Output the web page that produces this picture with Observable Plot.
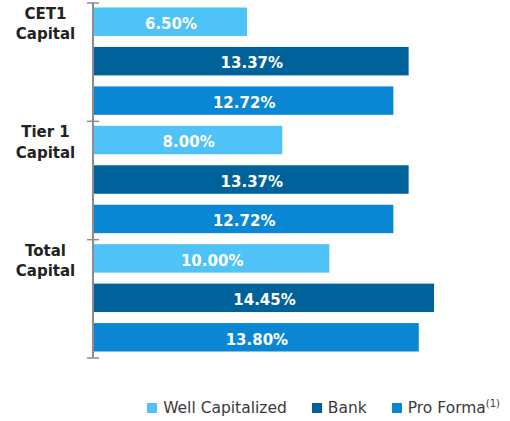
<!DOCTYPE html>
<html><head><meta charset="utf-8">
<script src="https://cdn.jsdelivr.net/npm/d3@7"></script>
<script src="https://cdn.jsdelivr.net/npm/@observablehq/plot@0.6"></script>
<style>
body{margin:0;background:#fff;font-family:"DejaVu Sans",sans-serif;}
#chart{width:510px;}
#chart svg{display:block;}
.legend{display:flex;justify-content:flex-end;align-items:center;margin-top:37px;padding-right:10px;font-size:15.5px;color:#3a3a3a;height:18px;line-height:18px;}
.item{display:flex;align-items:center;margin-left:25px;white-space:nowrap;}
.sw{width:10px;height:10px;margin-right:6px;flex:none;}
.item sup{font-size:10px;line-height:0;vertical-align:6px;}
</style></head><body><div id="chart"></div>
<script>
const groups = ["CET1\nCapital", "Tier 1\nCapital", "Total\nCapital"];
const series = ["Well Capitalized", "Bank", "Pro Forma"];
const wellCapitalized = [6.50, 8.00, 10.00];
const bank = [13.37, 13.37, 14.45];
const proForma = [12.72, 12.72, 13.80];
const colors = ["#4fc3f7", "#00629b", "#0a87d4"];

const valueLists = [wellCapitalized, bank, proForma];
const rows = [];
groups.forEach((g, gi) => series.forEach((s, si) =>
  rows.push({group: g, series: s, value: valueLists[si][gi], row: gi * series.length + si})));
const nRows = groups.length * series.length;
const groupEdges = d3.range(0, nRows + 1, series.length);

const plot = Plot.plot({
  width: 510, height: 362,
  marginLeft: 94, marginRight: 63, marginTop: 2.5, marginBottom: 4.5,
  style: {fontFamily: "DejaVu Sans", background: "white"},
  x: {domain: [0, 15], axis: null},
  y: {domain: [0, nRows], reverse: true, axis: null},
  color: {domain: series, range: colors},
  marks: [
    Plot.rectX(rows, {x: "value", y: "row", interval: 1, fill: "series", insetTop: 5, insetBottom: 6}),
    Plot.text(rows, {x: d => d.value / 2, y: d => d.row + 0.5, text: d => d.value.toFixed(2) + "%",
      fill: "white", fontWeight: "bold", fontSize: 15, dy: 1.5}),
    Plot.ruleX([0], {y1: 0, y2: nRows, stroke: "#8c8c8c", strokeWidth: 2, dx: -1.5}),
    Plot.ruleY(groupEdges, {y: d => d, x1: 0, x2: 0, insetLeft: -7, insetRight: -5, stroke: "#8c8c8c", strokeWidth: 1.5}),
    Plot.text(groups, {x: 0, y: (d, i) => i * series.length + 0.5, text: d => d, dx: -49,
      textAnchor: "middle", fontWeight: "bold", fontSize: 15, lineHeight: 1.35, fill: "#222"})
  ]
});
document.getElementById("chart").appendChild(plot);

const legend = document.createElement("div");
legend.className = "legend";
series.forEach((s, i) => {
  const item = document.createElement("div");
  item.className = "item";
  const sw = document.createElement("span");
  sw.className = "sw";
  sw.style.background = colors[i];
  item.appendChild(sw);
  const label = document.createElement("span");
  label.textContent = s;
  if (s === "Pro Forma") {
    const sup = document.createElement("sup");
    sup.textContent = "(1)";
    label.appendChild(sup);
  }
  item.appendChild(label);
  legend.appendChild(item);
});
document.getElementById("chart").appendChild(legend);
</script>
</body></html>
